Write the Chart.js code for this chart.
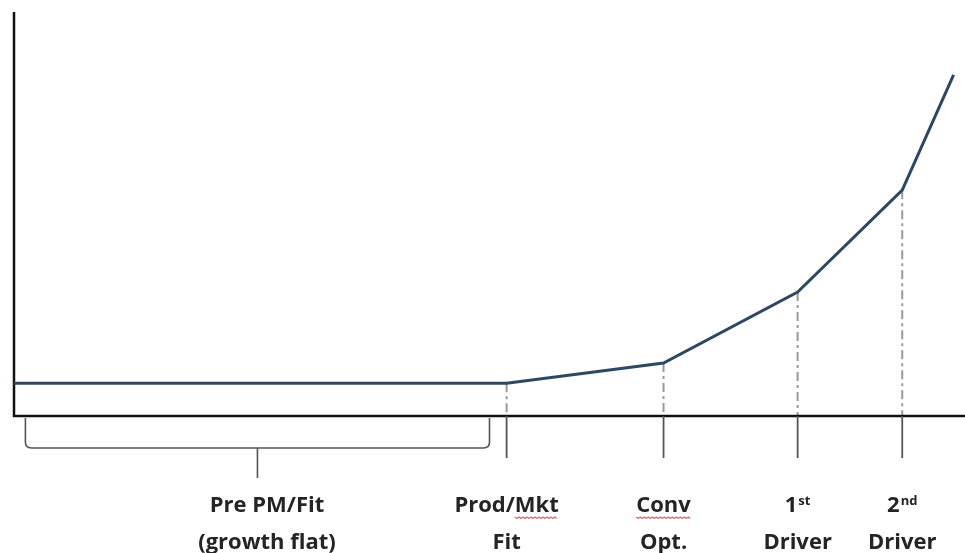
<!DOCTYPE html>
<html>
<head>
<meta charset="utf-8">
<script src="https://cdn.jsdelivr.net/npm/chart.js@4"></script>
<style>
  html, body { margin: 0; padding: 0; background: #fff; }
  #wrap { width: 965px; height: 553px; position: relative; }
</style>
</head>
<body>
<div id="wrap"><canvas id="growth"></canvas></div>
<script>
// Position of each stage along the x axis (0-100) and the growth level there
const stagePos = [0, 51.8, 68.3, 82.4, 93.4, 98.8];
const growth = [7.9, 7.9, 12.9, 30.5, 55.8, 84.4];

// Stages that get a marker + label under the axis (index into stagePos)
const markerIdx = [1, 2, 3, 4];
const labelTop = ["Prod/Mkt", "Conv", "1", "2"];
const labelSup = ["", "", "st", "nd"];
const labelBottom = ["Fit", "Opt.", "Driver", "Driver"];
// words the spell checker flagged (red squiggle)
const squiggle = ["Mkt", "Conv", "", ""];

// Bracket under the flat part
const braceRange = [1.2, 50];
const braceLabelPos = 26.6;
const braceLabel = ["Pre PM/Fit", "(growth flat)"];

const FONT = "bold 22px 'Open Sans', Lato, sans-serif";
const SUP_FONT = "bold 13px 'Open Sans', Lato, sans-serif";
const TEXT = "#242424";

const axesPlugin = {
    id: "axes",
    beforeDatasetsDraw(chart) {
        const ctx = chart.ctx, a = chart.chartArea;
        const xs = chart.scales.x, ys = chart.scales.y;
        ctx.save();
        // dash-dot drop lines from the curve to the axis
        ctx.strokeStyle = "#9a9a9a";
        ctx.lineWidth = 2;
        ctx.setLineDash([9, 4, 3, 4]);
        markerIdx.forEach(i => {
            const px = xs.getPixelForValue(stagePos[i]);
            ctx.beginPath();
            ctx.moveTo(px, ys.getPixelForValue(growth[i]));
            ctx.lineTo(px, a.bottom);
            ctx.stroke();
        });
        ctx.setLineDash([]);
        // axes
        ctx.strokeStyle = "#111";
        ctx.lineWidth = 2.5;
        ctx.beginPath();
        ctx.moveTo(a.left, a.top);
        ctx.lineTo(a.left, a.bottom + 1);
        ctx.lineTo(a.right, a.bottom + 1);
        ctx.stroke();
        ctx.restore();
    },
    afterDraw(chart) {
        const ctx = chart.ctx, a = chart.chartArea;
        const xs = chart.scales.x;
        const base = a.bottom + 1;
        ctx.save();
        // tick marks below the axis
        ctx.strokeStyle = "#555";
        ctx.lineWidth = 1.8;
        markerIdx.forEach(i => {
            const px = xs.getPixelForValue(stagePos[i]);
            ctx.beginPath();
            ctx.moveTo(px, base);
            ctx.lineTo(px, base + 42);
            ctx.stroke();
        });
        // bracket
        const bl = xs.getPixelForValue(braceRange[0]);
        const br = xs.getPixelForValue(braceRange[1]);
        const bm = (bl + br) / 2;
        const by = base + 32, r = 6;
        ctx.lineWidth = 1.6;
        ctx.beginPath();
        ctx.moveTo(bl, base + 2);
        ctx.lineTo(bl, by - r);
        ctx.quadraticCurveTo(bl, by, bl + r, by);
        ctx.lineTo(br - r, by);
        ctx.quadraticCurveTo(br, by, br, by - r);
        ctx.lineTo(br, base + 2);
        ctx.moveTo(bm, by);
        ctx.lineTo(bm, by + 30);
        ctx.stroke();

        // labels
        ctx.fillStyle = TEXT;
        ctx.textBaseline = "alphabetic";
        ctx.textAlign = "center";
        ctx.font = FONT;
        const y1 = 512, y2 = 549;
        const cx0 = xs.getPixelForValue(braceLabelPos);
        ctx.fillText(braceLabel[0], cx0, y1);
        ctx.fillText(braceLabel[1], cx0, y2);

        markerIdx.forEach((i, k) => {
            const px = xs.getPixelForValue(stagePos[i]);
            ctx.font = FONT;
            ctx.textAlign = "left";
            const mw = ctx.measureText(labelTop[k]).width;
            ctx.font = SUP_FONT;
            const sw = labelSup[k] ? ctx.measureText(labelSup[k]).width + 1 : 0;
            const start = px - (mw + sw) / 2;
            ctx.font = FONT;
            ctx.fillText(labelTop[k], start, y1);
            if (labelSup[k]) {
                ctx.font = SUP_FONT;
                ctx.fillText(labelSup[k], start + mw + 1, y1 - 7);
                ctx.font = FONT;
            }
            if (squiggle[k]) {
                const idx = labelTop[k].indexOf(squiggle[k]);
                const sx = start + ctx.measureText(labelTop[k].slice(0, idx)).width;
                const ex = sx + ctx.measureText(squiggle[k]).width;
                ctx.strokeStyle = "#d46a6a";
                ctx.lineWidth = 1.2;
                ctx.beginPath();
                for (let x = sx, n = 0; x <= ex; x += 2, n++) {
                    const yy = y1 + 5 + (n % 2 ? 1.5 : 0);
                    n === 0 ? ctx.moveTo(x, yy) : ctx.lineTo(x, yy);
                }
                ctx.stroke();
            }
            ctx.textAlign = "center";
            ctx.fillText(labelBottom[k], px, y2);
        });
        ctx.restore();
    }
};

new Chart(document.getElementById("growth"), {
    type: "line",
    plugins: [axesPlugin],
    data: {
        datasets: [{
            data: stagePos.map((x, i) => ({ x: x, y: growth[i] })),
            borderColor: "#2d4862",
            borderWidth: 3,
            pointRadius: 0,
            tension: 0
        }]
    },
    options: {
        responsive: true,
        maintainAspectRatio: false,
        animation: false,
        layout: { padding: { left: 14, top: 12, right: 0, bottom: 138 } },
        plugins: { legend: { display: false }, tooltip: { enabled: false } },
        scales: {
            x: { type: "linear", min: 0, max: 100, display: false },
            y: { min: 0, max: 100, display: false }
        }
    }
});
</script>
</body>
</html>
